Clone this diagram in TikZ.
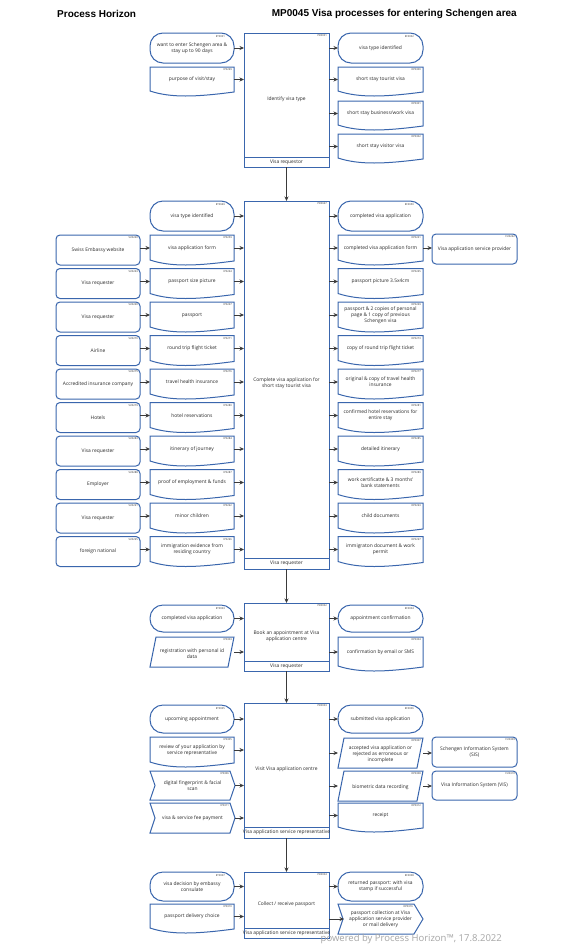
\documentclass[tikz,border=0pt]{standalone}
\usepackage{fontspec}
\setmainfont{Open Sans}
\newfontfamily\hdrfont{Liberation Sans}
\usetikzlibrary{arrows.meta}
\definecolor{bcol}{HTML}{3A66AD}
\definecolor{tcol}{HTML}{2A2A2A}
\definecolor{acol}{HTML}{3A3A3A}
\definecolor{wcol}{HTML}{A6A6A6}
\newcommand{\bodyfont}{\fontsize{4.9}{6}\selectfont}
\tikzset{
  shp/.style={draw=bcol, line width=1pt, fill=white},
  frm/.style={inner sep=0pt, outer sep=0pt, draw=none},
  txt/.style={font=\bodyfont, text=tcol, align=center, inner sep=0pt},
  idl/.style={font=\fontsize{2.6}{3}\selectfont, text=tcol, anchor=north east, inner sep=0pt},
  arr/.style={-{Stealth[length=4.5pt,width=4pt]}, draw=acol, line width=0.9pt},
  hdr/.style={font=\hdrfont\bfseries\fontsize{10}{12}\selectfont, text=black, inner sep=0pt}
}
% #1 name #2 x1 #3 y1 #4 x2 #5 y2 #6 id #7 text
\newcommand{\mkStad}[7]{%
  \draw[shp, rounded corners=13pt] (#2,#3) rectangle (#4,#5);
  \node[frm, minimum width={#4-#2}, minimum height={#5-#3}] (#1) at ({(#2+#4)/2},{(#3+#5)/2}) {};
  \node[txt] at (#1) {#7};
  \node[idl] at ({#4-9},{#3+2}) {#6};
}
\newcommand{\mkDoc}[7]{%
  \draw[shp] (#2,#3) -- (#4,#3) -- (#4,{#5-4}) .. controls ({#2+0.55*(#4-#2)},{#5+1}) and ({#2+0.25*(#4-#2)},{#5+2}) .. (#2,{#5-5}) -- cycle;
  \node[frm, minimum width={#4-#2}, minimum height={#5-#3-4}] (#1) at ({(#2+#4)/2},{(#3+#5-4)/2}) {};
  \node[txt] at (#1) {#7};
  \node[idl] at ({#4-2},{#3+1.5}) {#6};
}
\newcommand{\mkPar}[7]{%
  \draw[shp] ({#2+6},#3) -- (#4,#3) -- ({#4-6},#5) -- (#2,#5) -- cycle;
  \node[frm, minimum width={#4-#2}, minimum height={#5-#3}] (#1) at ({(#2+#4)/2},{(#3+#5)/2}) {};
  \node[txt] at ([yshift=-1.5pt]#1.center) {#7};
  \node[idl] at ({#4-2},{#3+1.5}) {#6};
}
\newcommand{\mkChevIn}[7]{%
  \draw[shp] (#2,#3) -- ({#4-5},#3) -- (#4,{(#3+#5)/2}) -- ({#4-5},#5) -- (#2,#5) -- ({#2+5},{(#3+#5)/2}) -- cycle;
  \node[frm, minimum width={#4-#2}, minimum height={#5-#3}] (#1) at ({(#2+#4)/2},{(#3+#5)/2}) {};
  \node[txt] at (#1) {#7};
  \node[idl] at ({#4-6},{#3+1.5}) {#6};
}
\newcommand{\mkChevOut}[7]{%
  \draw[shp] (#2,#3) -- ({#4-9},#3) -- (#4,{(#3+#5)/2}) -- ({#4-9},#5) -- (#2,#5) -- ({#2+5},{(#3+#5)/2}) -- cycle;
  \node[frm, minimum width={#4-#2}, minimum height={#5-#3}] (#1) at ({(#2+#4)/2},{(#3+#5)/2}) {};
  \node[txt] at (#1) {#7};
  \node[idl] at ({#4-10},{#3+1.5}) {#6};
}
\newcommand{\mkRect}[7]{%
  \draw[shp, rounded corners=4pt] (#2,#3) rectangle (#4,#5);
  \node[frm, minimum width={#4-#2}, minimum height={#5-#3}] (#1) at ({(#2+#4)/2},{(#3+#5)/2}) {};
  \node[txt] at (#1) {#7};
  \node[idl] at ({#4-2},{#3+1.5}) {#6};
}
% #1 name #2 x1 #3 y1 #4 x2 #5 y2 #6 footer y #7 id #8 text #9 footer text
\newcommand{\mkProc}[9]{%
  \draw[shp] (#2,#3) rectangle (#4,#5);
  \draw[shp] (#2,#6) -- (#4,#6);
  \node[frm, minimum width={#4-#2}, minimum height={#5-#3}] (#1) at ({(#2+#4)/2},{(#3+#5)/2}) {};
  \node[txt] at ({(#2+#4)/2},{(#3+#6)/2+4}) {#8};
  \node[txt] at ({(#2+#4)/2},{(#6+#5)/2}) {#9};
  \node[idl] at ({#4-2},{#3+1.5}) {#7};
}
\newcommand{\inA}[2]{\draw[arr] (#1.east) -- (#1.east -| #2.west);}
\newcommand{\outA}[2]{\draw[arr] (#2.west -| #1.east) -- (#2.west);}
\newcommand{\sideA}[2]{\draw[arr] (#2.west -| #1.east) -- (#2.west);}
\begin{document}
\begin{tikzpicture}[x=1pt,y=-1pt]
\fill[white] (0,0) rectangle (579,948);
\useasboundingbox (0,0) rectangle (579,948);

\node[hdr, anchor=west] (h1) at (57,14) {Process Horizon};
\node[hdr, anchor=east] (h2) at (517,14) {MP0045 Visa processes for entering Schengen area};

% ---------- Process 1
\mkProc{p1}{244}{33}{329}{167}{157}{PR0001}{Identify visa type}{Visa requestor}
\mkStad{e1}{150}{33}{234}{63}{ET0001}{want to enter Schengen area \&\\stay up to 90 days}
\mkDoc{i1}{150}{67}{234}{96}{IP0299}{purpose of visit/stay}
\mkStad{o1a}{338}{33}{423}{63}{EC0002}{visa type identified}
\mkDoc{o1b}{338}{67}{423}{96}{OP0300}{short stay tourist visa}
\mkDoc{o1c}{338}{101}{423}{130}{OP0301}{short stay business/work visa}
\mkDoc{o1d}{338}{134}{423}{163}{OP0302}{short stay visitor visa}
\inA{e1}{p1}\inA{i1}{p1}
\outA{p1}{o1a}\outA{p1}{o1b}\outA{p1}{o1c}\outA{p1}{o1d}

% ---------- Process 2
\mkProc{p2}{244}{201}{329}{569}{558}{PR0047}{Complete visa application for\\short stay tourist visa}{Visa requester}
\mkStad{e2}{150}{201}{234}{231}{ET0049}{visa type identified}
\mkStad{o2}{338}{201}{423}{231}{EC0050}{completed visa application}
\mkRect{s0}{56}{235}{140}{265}{SU0260}{Swiss Embassy website}
\mkDoc{i0}{150}{235}{234}{265}{IP0259}{visa application form}
\mkDoc{q0}{338}{235}{423}{265}{OP0261}{completed visa application form}
\mkRect{cu}{432}{234}{517}{264}{CU0262}{Visa application service provider}
\mkRect{s1}{56}{268.5}{140}{298.5}{SU0263}{Visa requester}
\mkDoc{i1b}{150}{268.5}{234}{298.5}{IP0264}{passport size picture}
\mkDoc{q1}{338}{268.5}{423}{298.5}{OP0265}{passport picture 3.5x4cm}
\mkRect{s2}{56}{302}{140}{332}{SU0266}{Visa requester}
\mkDoc{i2}{150}{302}{234}{332}{IP0267}{passport}
\mkDoc{q2}{338}{302}{423}{332}{OP0269}{passport \& 2 copies of personal\\page \& 1 copy of previous\\Schengen visa}
\mkRect{s3}{56}{335.5}{140}{365.5}{SU0270}{Airline}
\mkDoc{i3}{150}{335.5}{234}{365.5}{IP0271}{round trip flight ticket}
\mkDoc{q3}{338}{335.5}{423}{365.5}{OP0273}{copy of round trip flight ticket}
\mkRect{s4}{56}{369}{140}{399}{SU0275}{Accredited insurance company}
\mkDoc{i4}{150}{369}{234}{399}{IP0276}{travel health insurance}
\mkDoc{q4}{338}{369}{423}{399}{OP0277}{original \& copy of travel health\\insurance}
\mkRect{s5}{56}{402.5}{140}{432.5}{SU0279}{Hotels}
\mkDoc{i5}{150}{402.5}{234}{432.5}{IP0280}{hotel reservations}
\mkDoc{q5}{338}{402.5}{423}{432.5}{OP0281}{confirmed hotel reservations for\\entire stay}
\mkRect{s6}{56}{436}{140}{466}{SU0283}{Visa requester}
\mkDoc{i6}{150}{436}{234}{466}{IP0284}{itinerary of journey}
\mkDoc{q6}{338}{436}{423}{466}{OP0285}{detailed itinerary}
\mkRect{s7}{56}{469.5}{140}{499.5}{SU0288}{Employer}
\mkDoc{i7}{150}{469.5}{234}{499.5}{IP0287}{proof of employment \& funds}
\mkDoc{q7}{338}{469.5}{423}{499.5}{OP0289}{work certificatte \& 3 months'\\bank statements}
\mkRect{s8}{56}{503}{140}{533}{SU0291}{Visa requester}
\mkDoc{i8}{150}{503}{234}{533}{IP0292}{minor children}
\mkDoc{q8}{338}{503}{423}{533}{OP0293}{child documents}
\mkRect{s9}{56}{536.5}{140}{566.5}{SU0295}{foreign national}
\mkDoc{i9}{150}{536.5}{234}{566.5}{IP0296}{immigration evidence from\\residing country}
\mkDoc{q9}{338}{536.5}{423}{566.5}{OP0297}{immigraton document \& work\\permit}
\inA{e2}{p2}\outA{p2}{o2}
\foreach \s/\i/\q in {s0/i0/q0,s1/i1b/q1,s2/i2/q2,s3/i3/q3,s4/i4/q4,s5/i5/q5,s6/i6/q6,s7/i7/q7,s8/i8/q8,s9/i9/q9}{
  \sideA{\s}{\i}
  \inA{\i}{p2}
  \outA{p2}{\q}
}
\draw[arr] (q0.east) -- (q0.east -| cu.west);

% ---------- Process 3
\mkProc{p3}{244}{603}{329}{671}{661}{PR0002}{Book an appointment at Visa\\application centre}{Visa requester}
\mkStad{e3}{150}{605}{234}{632}{ET0003}{completed visa application}
\mkPar{i3p}{150}{637}{234}{667}{IP0303}{registration with personal id\\data}
\mkStad{o3a}{338}{605}{423}{632}{EC0004}{appointment confirmation}
\mkDoc{o3b}{338}{637}{423}{671}{OP0304}{confirmation by email or SMS}
\inA{e3}{p3}\inA{i3p}{p3}
\outA{p3}{o3a}\outA{p3}{o3b}

% ---------- Process 4
\mkProc{p4}{244}{703}{329}{838}{827}{PR0003}{Visit Visa application centre}{Visa application service representative}
\mkStad{e4}{150}{705}{234}{733}{ET0005}{upcoming appointment}
\mkDoc{i4a}{150}{737}{234}{767}{IP0305}{review of your application by\\service representative}
\mkChevIn{i4b}{150}{771}{235}{800}{IP0306}{digital fingerprint \& facial\\scan}
\mkChevIn{i4c}{150}{803}{235}{833}{IP0311}{visa \& service fee payment}
\mkStad{o4a}{338}{705}{423}{733}{EC0006}{submitted visa application}
\mkPar{o4b}{338}{738}{423}{768}{OP0307}{accepted visa application or\\rejected as erroneous or\\incomplete}
\mkPar{o4c}{338}{771}{423}{801}{OP0308}{biometric data recording}
\mkDoc{o4d}{338}{803}{423}{832}{OP0312}{receipt}
\mkRect{c4a}{432}{737}{517}{767}{CU0309}{Schengen Information System\\(SIS)}
\mkRect{c4b}{432}{771}{517}{800}{CU0310}{Visa Information System (VIS)}
\inA{e4}{p4}\inA{i4a}{p4}\inA{i4b}{p4}\inA{i4c}{p4}
\outA{p4}{o4a}\outA{p4}{o4b}\outA{p4}{o4c}\outA{p4}{o4d}
\draw[arr] (o4b.east) -- (o4b.east -| c4a.west);
\draw[arr] (o4c.east) -- (o4c.east -| c4b.west);

% ---------- Process 5
\mkProc{p5}{244}{872}{329}{938}{928}{PR0004}{Collect / receive passport}{Visa application service representative}
\mkStad{e5}{150}{872}{234}{901}{ET0007}{visa decision by embassy\\consulate}
\mkDoc{i5d}{150}{904}{234}{933}{IP0310}{passport delivery choice}
\mkStad{o5a}{338}{872}{423}{901}{EC0008}{returned passport: with visa\\stamp if successful}
\mkChevOut{o5b}{338}{904}{423}{934}{OP0316}{passport collection at Visa\\application service provider\\or mail delivery}
\inA{e5}{p5}\inA{i5d}{p5}
\outA{p5}{o5a}
\draw[arr] (o5b.west -| p5.east) -- ([xshift=6pt]o5b.west);

% ---------- flow between processes
\draw[arr] (p1.south) -- (p2.north);
\draw[arr] (p2.south) -- (p3.north);
\draw[arr] (p3.south) -- (p4.north);
\draw[arr] (p4.south) -- (p5.north);

\node[font=\fontsize{9.5}{11}\selectfont, text=wcol, anchor=east, inner sep=0pt] (wm) at (502,939) {powered by Process Horizon™, 17.8.2022};
\end{tikzpicture}
\end{document}
